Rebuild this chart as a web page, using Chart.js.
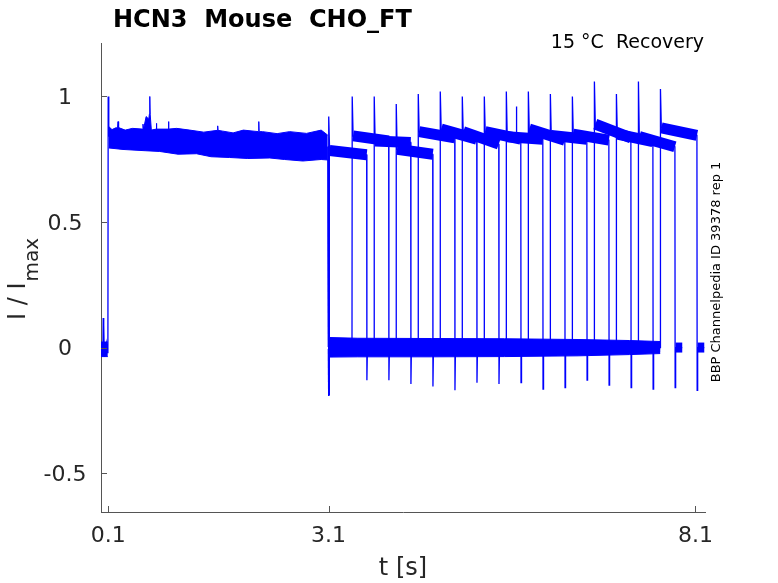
<!DOCTYPE html>
<html>
<head>
<meta charset="utf-8">
<script src="https://cdn.jsdelivr.net/npm/chart.js@4.4.0/dist/chart.umd.min.js"></script>
<style>
  html, body { margin: 0; padding: 0; background: #fff; }
  #wrap { width: 778px; height: 583px; }
</style>
</head>
<body>
<div id="wrap"><canvas id="myChart" width="778" height="583"></canvas></div>
<script>
// axis ticks
const xTicks = [0.1, 3.1, 8.1];
const yTicks = [-0.5, 0, 0.5, 1];

// holding level before the conditioning step, then the step onset
const preT = [0, 0.012, 0.02, 0.026, 0.03, 0.034, 0.04, 0.045, 0.05, 0.06, 0.075, 0.09, 0.094, 0.098, 0.106];
const preI = [0.01, -0.02, 0.015, -0.01, 0.118, -0.015, 0.09, -0.035, 0.02, -0.025, 0.015, -0.02, 0.0, 1.0, 0.84];
const preBandT = [0.0, 0.093];
const preTop = [0.022, 0.022];
const preBot = [-0.036, -0.036];

// conditioning step, noise envelope of all sweeps
const condTopT = [0.106, 0.15, 0.2, 0.225, 0.232, 0.24, 0.33, 0.43, 0.565, 0.572, 0.58, 0.615, 0.65, 0.66, 0.665, 0.67, 0.686,
  0.75, 0.755, 0.76, 0.915, 0.92, 0.925, 1.03, 1.21, 1.4, 1.585, 1.59, 1.595, 1.66, 1.8, 1.94, 2.145, 2.15, 2.155, 2.2, 2.4, 2.57, 2.8, 3.0, 3.09];
const condTop = [0.88, 0.868, 0.875, 0.875, 0.90, 0.876, 0.866, 0.873, 0.87, 0.89, 0.87, 0.92, 0.91, 0.93, 1.0, 0.93, 0.866,
  0.87, 0.893, 0.87, 0.87, 0.90, 0.87, 0.873, 0.866, 0.858, 0.865, 0.883, 0.865, 0.862, 0.855, 0.866, 0.86, 0.90, 0.86, 0.86, 0.852, 0.86, 0.853, 0.866, 0.846];
const condBotT = [0.106, 0.3, 0.6, 0.8, 1.05, 1.3, 1.5, 1.75, 2.0, 2.3, 2.5, 2.75, 3.0, 3.09];
const condBot = [0.795, 0.789, 0.784, 0.781, 0.770, 0.772, 0.760, 0.757, 0.753, 0.755, 0.749, 0.743, 0.749, 0.747];
const condEnd = 3.1;
const condEndLevel = 0.80;
const condDropDip = -0.19;

// recovery gaps at zero, noise envelope
const zeroT = [3.105, 3.5, 4.5, 5.5, 6.5, 7.2, 7.62];
const zeroTop = [0.04, 0.037, 0.036, 0.035, 0.032, 0.028, 0.024];
const zeroBot = [-0.038, -0.037, -0.037, -0.036, -0.033, -0.028, -0.024];

// test pulses, one per sweep
const pulseOn = [3.10, 3.42, 3.72, 4.02, 4.32, 4.62, 4.92, 5.22, 5.52, 5.82, 6.12, 6.42, 6.72, 7.02, 7.32, 7.62];
const pulseOff = [3.62, 3.92, 4.22, 4.52, 4.82, 5.12, 5.42, 5.72, 6.02, 6.32, 6.62, 6.92, 7.22, 7.52, 7.82, 8.12];
const pulsePeak = [0.92, 1.00, 1.00, 0.97, 1.01, 1.02, 1.00, 1.00, 1.02, 1.02, 1.01, 1.00, 1.06, 1.01, 1.06, 1.03];
const plateauStart = [0.785, 0.843, 0.823, 0.790, 0.860, 0.870, 0.860, 0.860, 0.840, 0.870, 0.845, 0.850, 0.890, 0.850, 0.840, 0.875];
const plateauEnd = [0.768, 0.823, 0.817, 0.770, 0.835, 0.830, 0.810, 0.830, 0.830, 0.826, 0.830, 0.826, 0.835, 0.820, 0.800, 0.845];
const offDip = [-0.13, -0.13, -0.145, -0.155, -0.17, -0.14, -0.145, -0.14, -0.165, -0.16, -0.13, -0.15, -0.16, -0.165, -0.16, -0.17];

// lone glitch inside one pulse
const glitchT = [5.655, 5.66, 5.665];
const glitchI = [0.84, 0.96, 0.84];

const BLUE = '#0000ff';
const AXIS = '#555555';
const FONT = '"DejaVu Sans"';

const pts = (xs, ys) => xs.map((x, i) => ({ x: x, y: ys[i] }));
const thin = (data) => ({ data: data, borderColor: BLUE, borderWidth: 1.3, pointRadius: 0, fill: false, tension: 0 });
const thick = (data, w) => Object.assign(thin(data), { borderWidth: w, borderCapStyle: 'butt' });

const datasets = [];
function band(xt, top, xb, bot) {
  datasets.push({ data: pts(xt, top), borderColor: BLUE, borderWidth: 1, pointRadius: 0, backgroundColor: BLUE, fill: '+1' });
  datasets.push({ data: pts(xb, bot), borderColor: BLUE, borderWidth: 1, pointRadius: 0, fill: false });
}

datasets.push(thin(pts(preT, preI)));
band(preBandT, preTop, preBandT, preBot);
band(condTopT, condTop, condBotT, condBot);
band(zeroT, zeroTop, zeroT, zeroBot);

pulseOn.forEach((on, k) => {
  const off = pulseOff[k];
  const d = [{ x: condEnd, y: condEndLevel }];
  if (on > condEnd) {
    d.push({ x: condEnd + 0.002, y: condDropDip }, { x: condEnd + 0.008, y: 0 }, { x: on, y: 0 });
  }
  d.push({ x: on + 0.003, y: pulsePeak[k] }, { x: on + 0.015, y: plateauStart[k] },
    { x: off, y: plateauEnd[k] }, { x: off + 0.003, y: offDip[k] },
    { x: off + 0.01, y: 0 }, { x: off + 0.1, y: 0 });
  datasets.push(thin(d));
  // noisy plateau and short tail after the pulse
  datasets.push(thick([{ x: on + 0.015, y: plateauStart[k] }, { x: off, y: plateauEnd[k] }], 11));
  datasets.push(thick([{ x: off + 0.01, y: 0 }, { x: off + 0.1, y: 0 }], 10));
});

datasets.push(thin(pts(glitchT, glitchI)));

const decor = {
  id: 'decor',
  afterDraw(chart) {
    const { ctx, chartArea: a, scales: { x, y } } = chart;
    ctx.save();
    // inward tick marks
    ctx.strokeStyle = AXIS;
    ctx.lineWidth = 1;
    xTicks.forEach(v => {
      const px = Math.round(x.getPixelForValue(v)) + 0.5;
      ctx.beginPath(); ctx.moveTo(px, a.bottom); ctx.lineTo(px, a.bottom - 6); ctx.stroke();
    });
    yTicks.forEach(v => {
      const py = Math.round(y.getPixelForValue(v)) + 0.5;
      ctx.beginPath(); ctx.moveTo(a.left, py); ctx.lineTo(a.left + 6, py); ctx.stroke();
    });

    // tick labels
    ctx.fillStyle = '#262626';
    ctx.font = '22px ' + FONT;
    ctx.textAlign = 'center';
    ctx.textBaseline = 'alphabetic';
    xTicks.forEach(v => ctx.fillText(String(v), x.getPixelForValue(v), a.bottom + 30));
    yTicks.forEach(v => ctx.fillText(String(v), a.left - 36, y.getPixelForValue(v) + 7.5));

    // axis labels
    ctx.font = '24px ' + FONT;
    ctx.fillText('t [s]', 403, 575);
    ctx.save();
    ctx.rotate(-Math.PI / 2);
    ctx.textAlign = 'left';
    ctx.fillText('I / I', -320, 24.5);
    const w = ctx.measureText('I / I').width;
    ctx.font = '20px ' + FONT;
    ctx.fillText('max', -320 + w + 1, 38);
    ctx.restore();

    // title and notes
    ctx.fillStyle = '#000000';
    ctx.font = 'bold 24px ' + FONT;
    ctx.textAlign = 'left';
    ctx.fillText('HCN3  Mouse  CHO_FT', 113, 26.5);
    ctx.font = '19px ' + FONT;
    ctx.textAlign = 'right';
    ctx.fillText('15 °C  Recovery', 704, 47.5);
    ctx.save();
    ctx.translate(720, 272);
    ctx.rotate(-Math.PI / 2);
    ctx.font = '13px ' + FONT;
    ctx.textAlign = 'center';
    ctx.fillText('BBP Channelpedia ID 39378 rep 1', 0, 0);
    ctx.restore();
    ctx.restore();
  }
};

const ctx = document.getElementById('myChart');

new Chart(ctx, {
  type: 'line',
  data: { datasets: datasets },
  options: {
    responsive: false,
    animation: false,
    devicePixelRatio: 1,
    events: [],
    layout: { padding: { left: 0, top: 43, right: 73, bottom: 0 } },
    plugins: {
      legend: { display: false },
      tooltip: { enabled: false },
    },
    scales: {
      x: {
        type: 'linear',
        min: 0,
        max: 8.23,
        grid: { display: false, drawTicks: false },
        border: { display: true, color: AXIS, width: 1 },
        ticks: { display: false },
        afterFit: (s) => { s.height = 71; },
      },
      y: {
        type: 'linear',
        min: -0.655,
        max: 1.213,
        grid: { display: false, drawTicks: false },
        border: { display: true, color: AXIS, width: 1 },
        ticks: { display: false },
        afterFit: (s) => { s.width = 101; },
      },
    },
  },
  plugins: [decor],
});
</script>
</body>
</html>
